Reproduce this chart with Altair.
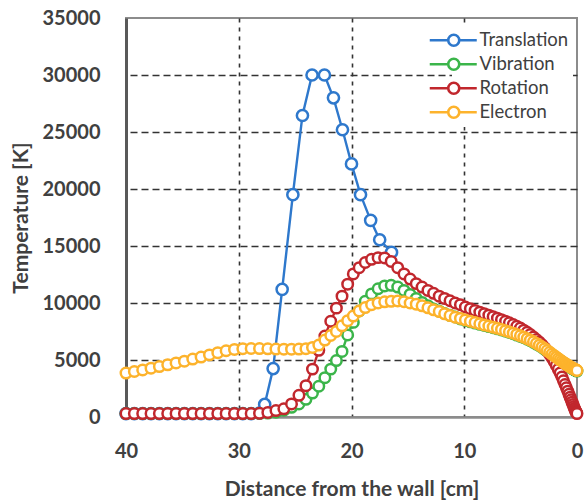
import altair as alt
import pandas as pd

# Distance from the wall [cm] for the vibration / rotation / electron profiles
grid_cm = [
    40.0, 39.26, 38.52, 37.78, 37.04, 36.3, 35.56, 34.82, 34.08, 33.34,
    32.6, 31.86, 31.12, 30.38, 29.64, 28.9, 28.16, 27.42, 26.7, 26.0,
    25.32, 24.66, 24.04, 23.46, 22.9, 22.36, 21.84, 21.34, 20.84, 20.34,
    19.84, 19.32, 18.78, 18.22, 17.64, 17.06, 16.48, 15.9, 15.34, 14.8,
    14.26, 13.74, 13.22, 12.72, 12.22, 11.74, 11.26, 10.8, 10.34, 9.9,
    9.46, 9.04, 8.62, 8.22, 7.82, 7.44, 7.06, 6.7, 6.34, 6.0,
    5.66, 5.34, 5.02, 4.72, 4.42, 4.14, 3.86, 3.6, 3.34, 3.1,
    2.86, 2.64, 2.42, 2.22, 2.02, 1.84, 1.66, 1.5, 1.34, 1.2,
    1.06, 0.94, 0.82, 0.71, 0.61, 0.52, 0.44, 0.36, 0.29, 0.23,
    0.17, 0.12, 0.08, 0.04, 0.0,
]

vibration_K = [
    300, 300, 300, 300, 300, 300, 300, 300, 300, 300,
    300, 300, 300, 300, 300, 300, 310, 340, 420, 600,
    850, 1150, 1550, 2100, 2700, 3450, 4200, 4950, 5750, 7200,
    8300, 9300, 10150, 10800, 11250, 11500, 11550, 11400, 11100, 10750,
    10400, 10050, 9750, 9480, 9280, 9080, 8920, 8770, 8600, 8470,
    8350, 8240, 8130, 8030, 7930, 7830, 7730, 7630, 7520, 7410,
    7300, 7190, 7070, 6950, 6820, 6690, 6550, 6400, 6250, 6100,
    5940, 5780, 5620, 5470, 5330, 5200, 5070, 4950, 4840, 4740,
    4650, 4570, 4490, 4420, 4360, 4310, 4260, 4220, 4180, 4150,
    4120, 4090, 4070, 4050, 4030,
]

rotation_K = [
    300, 300, 300, 300, 300, 300, 300, 300, 300, 300,
    300, 300, 300, 300, 300, 300, 320, 400, 560, 720,
    1150, 1900, 2750, 4200, 5850, 7100, 8400, 9550, 10600, 11650,
    12550, 13100, 13550, 13830, 13980, 13950, 13650, 13100, 12550, 12100,
    11700, 11400, 11100, 10850, 10600, 10400, 10200, 10000, 9850, 9650,
    9500, 9350, 9200, 9060, 8930, 8800, 8670, 8540, 8400, 8260,
    8110, 7960, 7800, 7620, 7430, 7230, 7020, 6800, 6570, 6330,
    6070, 5800, 5500, 5180, 4850, 4520, 4180, 3850, 3500, 3170,
    2850, 2560, 2270, 1990, 1740, 1510, 1300, 1100, 920, 770,
    630, 510, 420, 350, 300,
]

electron_K = [
    3850, 3990, 4130, 4280, 4420, 4580, 4740, 4900, 5080, 5260,
    5450, 5640, 5810, 5930, 5990, 6010, 6000, 5980, 5960, 5950,
    5950, 5960, 5990, 6100, 6310, 6750, 7150, 7500, 8000, 8450,
    8850, 9300, 9600, 9850, 10000, 10100, 10150, 10180, 10120, 10000,
    9900, 9750, 9580, 9400, 9250, 9050, 8900, 8750, 8650, 8520,
    8400, 8290, 8180, 8080, 7980, 7880, 7780, 7680, 7570, 7460,
    7350, 7240, 7120, 7000, 6870, 6740, 6600, 6450, 6300, 6150,
    5990, 5830, 5670, 5520, 5380, 5250, 5120, 5000, 4890, 4790,
    4700, 4620, 4540, 4470, 4410, 4360, 4310, 4270, 4230, 4200,
    4170, 4140, 4120, 4100, 4080,
]

# Translational temperature has its own (coarser) sampling through the shock
translation_cm = [
    40.0, 39.26, 38.52, 37.78, 37.04, 36.3, 35.56, 34.82, 34.08, 33.34,
    32.6, 31.86, 31.12, 30.38, 29.64, 28.9, 28.16, 27.7, 26.95, 26.15,
    25.2, 24.35, 23.5, 22.4, 21.6, 20.8, 20.0, 19.2, 18.3, 17.5,
    16.45,
]
translation_K = [
    300, 300, 300, 300, 300, 300, 300, 300, 300, 300,
    300, 300, 300, 300, 300, 300, 350, 1100, 4250, 11200,
    19500, 26450, 30000, 30000, 28000, 25200, 22200, 19500, 17250, 15550,
    14450,
]

series_names = ["Translation", "Vibration", "Rotation", "Electron"]
series_colors = ["#2E78CC", "#3BB54A", "#C1272D", "#FDB32C"]
marker_sizes = [125, 110, 110, 110]

x_ticks = [0, 10, 20, 30, 40]
y_ticks = [0, 5000, 10000, 15000, 20000, 25000, 30000, 35000]

profiles = {
    "Translation": (translation_cm, translation_K),
    "Vibration": (grid_cm, vibration_K),
    "Rotation": (grid_cm, rotation_K),
    "Electron": (grid_cm, electron_K),
}

label_font = "Lato"
text_color = "#404040"

# line-with-marker glyph used for the legend entries
legend_glyph = (
    "M-7.1,0L-3.4,0M-1.2,0L2.3,0"
    "M-1.2,0A1.1,1.1,0,1,1,-3.4,0A1.1,1.1,0,1,1,-1.2,0Z"
)

legend = alt.Legend(
    title=None,
    orient="none",
    legendX=326,
    legendY=9,
    symbolType=legend_glyph,
    symbolSize=100,
    symbolStrokeWidth=2.6,
    symbolFillColor="white",
    labelFont=label_font,
    labelFontSize=18.5,
    labelColor=text_color,
    labelOffset=5,
    rowPadding=2,
    padding=4,
    fillColor="white",
)

x_enc = alt.X(
    "d:Q",
    title="Distance from the wall [cm]",
    scale=alt.Scale(domain=[0, 40], reverse=True, nice=False, zero=False),
    axis=alt.Axis(
        values=x_ticks,
        format="d",
        ticks=False,
        tickSize=0,
        labelPadding=40,
        labelBaseline="alphabetic",
        labelFlush=False,
        domainColor="#8C8C8C",
        domainWidth=2.5,
        grid=True,
        gridColor="#333333",
        gridWidth=1.6,
        gridDash=[4, 5],
        gridOpacity=alt.condition(
            "datum.value == 0 || datum.value == 40", alt.value(0), alt.value(1)
        ),
        titleX=225.5,
        titleY=78,
        titleBaseline="alphabetic",
        titleAlign="center",
    ),
)

y_enc = alt.Y(
    "T:Q",
    title="Temperature [K]",
    scale=alt.Scale(domain=[0, 35000], nice=False),
    axis=alt.Axis(
        values=y_ticks,
        format="d",
        ticks=False,
        tickSize=0,
        labelPadding=26,
        labelFlush=False,
        domainColor="#595959",
        domainWidth=3,
        grid=True,
        gridColor="#333333",
        gridWidth=1.6,
        gridDash=[7, 4],
        gridOpacity=alt.condition(
            "datum.value == 0 || datum.value == 35000", alt.value(0), alt.value(1)
        ),
        titleX=-99,
        titleY=199.5,
        titleAngle=270,
        titleBaseline="alphabetic",
        titleAlign="center",
    ),
)

stroke_enc = alt.Stroke(
    "series:N",
    scale=alt.Scale(domain=series_names, range=series_colors),
    legend=legend,
)

layers = []
for name, size in zip(series_names, marker_sizes):
    xs, ts = profiles[name]
    frame = pd.DataFrame({"d": xs, "T": ts, "series": name})
    base = alt.Chart(frame).encode(x=x_enc, y=y_enc, stroke=stroke_enc)
    layers.append(base.mark_line(strokeWidth=2.4))
    layers.append(
        base.mark_point(
            shape="circle", size=size, strokeWidth=2.5, fill="white",
            filled=False, opacity=1, fillOpacity=1,
        )
    )

chart = (
    alt.layer(*layers)
    .properties(
        width=451,
        height=399,
        autosize=alt.AutoSizeParams(type="none"),
        padding={"left": 126, "top": 18, "right": 9, "bottom": 83},
        background="white",
    )
    .configure_view(stroke="#8C8C8C", strokeWidth=2)
    .configure_axis(
        labelFont=label_font,
        labelFontSize=20,
        labelFontWeight="bold",
        labelColor=text_color,
        titleFont=label_font,
        titleFontSize=21,
        titleFontWeight="bold",
        titleColor=text_color,
    )
)

chart.save("out.html", embed_options={"renderer": "svg", "actions": False})
